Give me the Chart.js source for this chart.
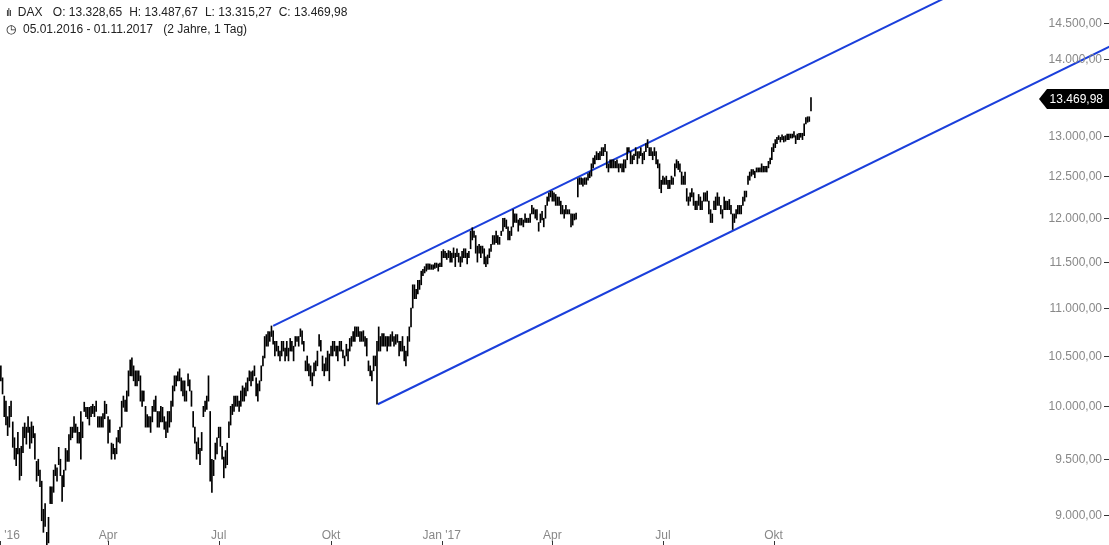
<!DOCTYPE html>
<html><head><meta charset="utf-8">
<script src="https://cdn.jsdelivr.net/npm/chart.js@4"></script>
<style>
html,body{margin:0;padding:0;background:#fff;}
#wrap{position:relative;width:1109px;height:545px;}
#hdr{position:absolute;left:6px;top:4px;font:12px "Liberation Sans",Arial,sans-serif;color:#222;line-height:17px;z-index:2;}
#hdr span{margin-right:7px;}
</style></head><body>
<div id="wrap">
<div id="hdr"><div><span style="font-size:10px;letter-spacing:-1px">ılı</span><span>DAX</span> <span>O: 13.328,65</span><span>H: 13.487,67</span><span>L: 13.315,27</span><span>C: 13.469,98</span></div>
<div><span>◷</span><span>05.01.2016 - 01.11.2017</span> <span>(2 Jahre, 1 Tag)</span></div></div>
<canvas id="c" width="1109" height="545"></canvas>
</div>
<script>
// daily lows / highs, one line per week (Mon-Fri), starting 04.01.2016
const lows = [
10260,10250,10120,9900,9820, 9720,9800,9900,9610,9500, 9440,9550,9310,9350,9560, 9700,9640,9750,9600,9650,
9700,9500,9300,9350,9250, 8950,8850,8900,8700,8760, 9100,9100,9200,9350,9300, 9450,9350,9120,9250,9400,
9480,9480,9680,9700,9750, 9750,9650,9650,9500,9700, 9950,9900,9880,9820,9900, 9930,9900,9950,9800,9800,
9800,9800,9880,9930,9650, 9750,9500,9550,9500,9550, 9660,9650,9800,9990,9950, 9950,10100,10300,10300,10250,
10200,10200,10250,10050,10000, 10050,9800,9800,9800,9750, 9850,9950,9950,9800,9800, 9850,9850,9780,9700,9750,
9800,9850,10000,10150,10200, 10250,10250,10150,10100,10050, 10050,10200,10150,10000,9800, 9650,9500,9550,9450,9580,
9900,9950,9970,10050,9300, 9200,9350,9500,9550,9700, 9620,9500,9330,9420,9450, 9700,9820,9920,9950,10000,
10000,9950,10000,10050,10050, 10100,10150,10250,10200,10250, 10300,10100,10050,10150,10250, 10400,10480,10600,10600,10650,
10700,10620,10500,10550,10500, 10450,10500,10550,10450,10500, 10450,10550,10550,10450,10600, 10650,10600,10700,10620,10550,
10350,10350,10300,10250,10200, 10300,10350,10400,10600,10550, 10350,10300,10350,10350,10250, 10500,10500,10550,10500,10450,
10550,10550,10480,10400,10500, 10450,10550,10600,10650,10650, 10700,10700,10650,10650,10650, 10600,10500,10350,10300,10250,
10350,10400,10020,10550,10550, 10600,10600,10600,10550,10600, 10600,10650,10600,10620,10640, 10500,10550,10550,10450,10400,
10500,10650,10800,11000,11100, 11100,11150,11200,11250,11350, 11380,11400,11420,11420,11420, 11420,11430,11440,11400,11450,
11450,11550,11550,11530,11550, 11500,11500,11550,11450,11560, 11500,11450,11500,11550,11550, 11480,11550,11650,11750,11780,
11600,11500,11600,11550,11600, 11480,11450,11480,11550,11620, 11700,11700,11720,11700,11700, 11800,11850,11900,11880,11750,
11750,11800,11900,11950,11950, 11850,11920,11920,11900,11950, 11950,11950,11950,12050,12050, 12000,11980,11850,11950,11980,
11900,12000,12150,12200,12250, 12200,12200,12150,12150,12150, 12050,12050,12000,12050,12050, 12050,11900,11920,11980,11990,
12250,12400,12400,12380,12400, 12400,12450,12480,12500,12600, 12650,12700,12700,12700,12750, 12750,12800,12600,12550,12600,
12600,12600,12600,12600,12550, 12600,12550,12550,12600,12700, 12800,12650,12650,12700,12750, 12650,12720,12750,12650,12700,
12800,12850,12750,12750,12700, 12750,12650,12600,12350,12300, 12400,12400,12400,12350,12350, 12400,12400,12500,12600,12580,
12550,12400,12400,12400,12200, 12150,12200,12250,12150,12100, 12100,12150,12100,12100,12200, 12200,12200,12050,11950,11950,
12100,12100,12150,12150,12050, 12000,12100,12100,12100,12100, 12050,11870,11950,12000,12050, 12050,12050,12150,12200,12250,
12400,12450,12500,12520,12480, 12550,12550,12550,12550,12550, 12550,12550,12600,12650,12700, 12800,12850,12900,12950,12920,
12950,12920,12930,12950,12950, 12970,12970,12980,12900,12950, 12950,12980,12950,13000,13150, 13170,13180,13315];
const highs = [
10490,10400,10280,10100,10050, 9900,10000,10050,9850,9700, 9600,9750,9600,9620,9800, 9840,9800,9900,9800,9850,
9810,9740,9480,9500,9400, 9300,9050,9100,8850,8980, 9250,9250,9400,9450,9420, 9610,9500,9350,9400,9600,
9580,9730,9800,9800,9900, 9830,9800,9750,9950,9850, 10040,9990,9990,9990,10000, 10020,10000,10050,9900,9900,
9900,9930,10050,10020,9900, 9870,9650,9640,9600,9700, 9770,9800,10050,10100,10060, 10150,10350,10460,10480,10400,
10350,10350,10350,10300,10150, 10150,10000,9920,9900,9900, 10000,10060,10100,9950,9950, 10000,9990,9900,9850,9950,
9950,10050,10200,10300,10300, 10340,10370,10280,10250,10250, 10150,10320,10260,10150,9950, 9800,9660,9700,9600,9750,
10000,10050,10100,10300,9950, 9500,9490,9650,9700,9800, 9800,9620,9520,9580,9650, 9850,10000,10020,10100,10100,
10100,10050,10150,10200,10180, 10230,10280,10350,10340,10350, 10400,10280,10220,10250,10400, 10500,10700,10720,10750,10750,
10810,10760,10650,10650,10600, 10550,10650,10650,10580,10650, 10580,10680,10650,10600,10700, 10700,10700,10780,10760,10650,
10450,10500,10420,10400,10330, 10430,10450,10550,10720,10660, 10500,10420,10480,10550,10520, 10600,10650,10650,10600,10600,
10650,10650,10560,10500,10620, 10570,10680,10700,10750,10800, 10800,10800,10750,10750,10760, 10700,10680,10450,10400,10350,
10500,10500,10650,10800,10700, 10730,10730,10700,10700,10700, 10720,10750,10700,10720,10720, 10650,10650,10700,10600,10550,
10700,10800,11000,11250,11250, 11200,11300,11300,11400,11420, 11450,11480,11480,11480,11470, 11470,11490,11490,11480,11490,
11620,11640,11620,11600,11630, 11620,11600,11660,11600,11650, 11600,11560,11620,11650,11650, 11600,11620,11850,11890,11850,
11800,11680,11700,11680,11680, 11650,11560,11580,11650,11700, 11800,11800,11850,11800,11780, 11850,12000,12000,11980,11900,
11850,11900,12100,12050,12050, 11980,12000,12000,11980,12050, 12000,12000,12050,12150,12120, 12100,12100,11950,12050,12080,
12000,12150,12250,12300,12320, 12320,12300,12280,12250,12250, 12200,12150,12100,12150,12100, 12100,12050,12050,12050,12060,
12470,12480,12480,12470,12480, 12480,12530,12550,12650,12720, 12750,12800,12780,12800,12850, 12850,12890,12800,12650,12700,
12700,12700,12680,12700,12650, 12650,12650,12700,12700,12850, 12850,12800,12750,12770,12850, 12800,12800,12850,12780,12800,
12900,12950,12850,12850,12800, 12850,12800,12700,12650,12450, 12500,12480,12500,12450,12450, 12500,12480,12650,12700,12680,
12650,12550,12500,12550,12350, 12250,12300,12350,12300,12200, 12200,12280,12250,12200,12300, 12300,12320,12200,12100,12050,
12200,12250,12300,12250,12150, 12100,12250,12200,12200,12220, 12150,12050,12050,12100,12150, 12150,12150,12250,12320,12320,
12500,12550,12580,12580,12560, 12600,12600,12600,12650,12620, 12620,12620,12680,12720,12850, 12900,12950,12980,13000,12980,
13010,12990,13000,13020,13020, 13020,13020,13050,13000,13020, 13030,13030,13030,13150,13230, 13240,13240,13488];
// month ticks (trading-day index of first weekday of month) and labels
const monthIdx = [0, 64, 129, 195, 260, 325, 390, 455];
const monthLabels = ["'16", "Apr", "Jul", "Okt", "Jan '17", "Apr", "Jul", "Okt"];
const yTicks = [9000,9500,10000,10500,11000,11500,12000,12500,13000,13500,14000,14500];
// trend channel anchor points [index, price]
const upperLine = [[161,10810],[640,15900]];
const lowerLine = [[222.5,10020],[660,14260]];
const lastPrice = 13469.98;

const fmtInt = v => { const s=v.toFixed(2).split('.'); return s[0].replace(/\B(?=(\d{3})+(?!\d))/g,'.')+','+s[1]; };

const axisPlugin = {
  id:'axisText',
  afterDraw(chart){
    const ctx=chart.ctx, y=chart.scales.y, x=chart.scales.x;
    ctx.save();
    ctx.font='12px "Liberation Sans", Arial, sans-serif';
    ctx.fillStyle='#888'; ctx.strokeStyle='#333'; ctx.lineWidth=1;
    ctx.textAlign='right'; ctx.textBaseline='middle';
    yTicks.forEach(v=>{ const py=Math.round(y.getPixelForValue(v))+0.5;
      ctx.fillText(fmtInt(v),1102,py);
      ctx.beginPath(); ctx.moveTo(1104,py); ctx.lineTo(1109,py); ctx.stroke(); });
    ctx.textAlign='center'; ctx.textBaseline='alphabetic';
    monthIdx.forEach((m,i)=>{ const px=x.getPixelForValue(m);
      ctx.fillStyle='#888';
      ctx.fillText(monthLabels[i],Math.max(px,12),539);
      const tx=Math.round(Math.max(px,0))+0.5;
      ctx.beginPath(); ctx.moveTo(tx,541); ctx.lineTo(tx,545); ctx.stroke(); });
    const ly=y.getPixelForValue(lastPrice);
    ctx.fillStyle='#000';
    ctx.beginPath(); ctx.moveTo(1039,ly); ctx.lineTo(1047,ly-10); ctx.lineTo(1109,ly-10); ctx.lineTo(1109,ly+10); ctx.lineTo(1047,ly+10); ctx.closePath(); ctx.fill();
    ctx.fillStyle='#fff'; ctx.textAlign='right'; ctx.textBaseline='middle';
    ctx.fillText(fmtInt(lastPrice),1103,ly+1);
    ctx.restore();
  }
};

new Chart(document.getElementById('c'),{
  data:{datasets:[
    {type:'bar',data:lows.map((l,i)=>({x:i,y:[l,highs[i]]})),backgroundColor:'#000',barThickness:1,borderWidth:0},
    {type:'line',data:upperLine.map(p=>({x:p[0],y:p[1]})),borderColor:'#1b3fdb',borderWidth:2,pointRadius:0},
    {type:'line',data:lowerLine.map(p=>({x:p[0],y:p[1]})),borderColor:'#1b3fdb',borderWidth:2,pointRadius:0}
  ]},
  options:{responsive:false,animation:false,layout:{padding:0},
    plugins:{legend:{display:false},tooltip:{enabled:false}},
    scales:{
      x:{type:'linear',min:0.5,max:652.1,display:false,offset:false},
      y:{type:'logarithmic',min:8742,max:14827,display:false}
    }},
  plugins:[axisPlugin]
});
</script></body></html>
